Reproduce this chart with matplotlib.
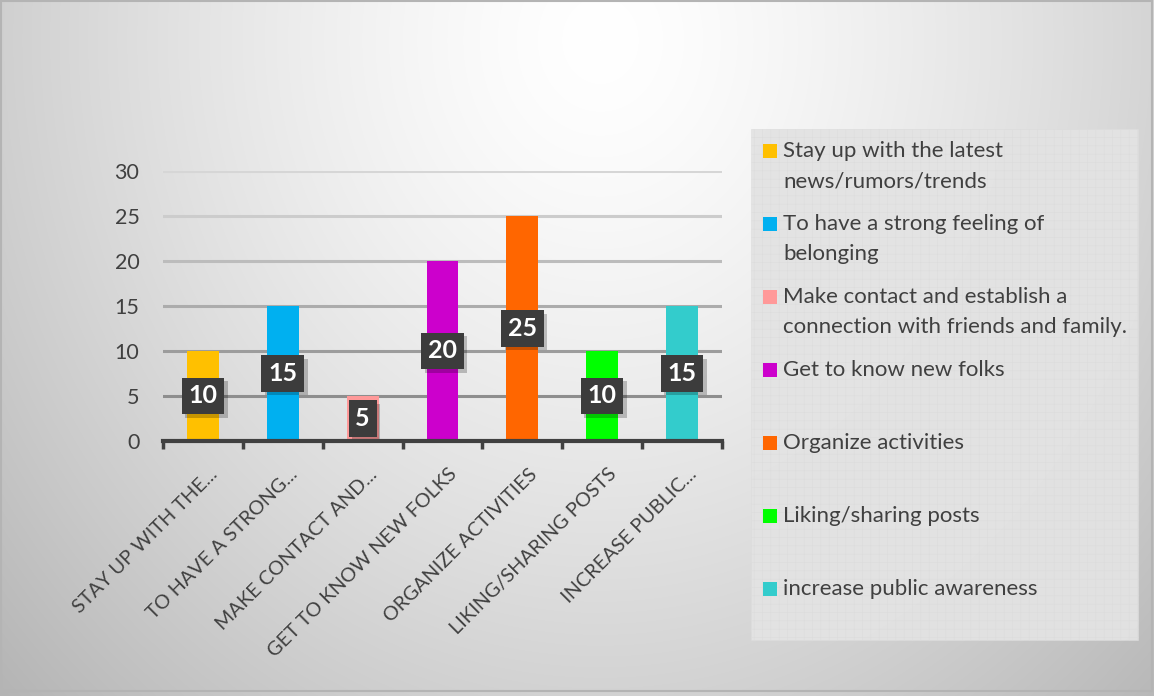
import numpy as np
import matplotlib
matplotlib.use("Agg")
import matplotlib.pyplot as plt
from matplotlib.patches import Rectangle
import matplotlib.transforms as mtransforms
import matplotlib.patheffects as pe

# ---- data ----
categories = [
    "Stay up with the latest\nnews/rumors/trends",
    "To have a strong feeling of\nbelonging",
    "Make contact and establish a\nconnection with friends and family.",
    "Get to know new folks",
    "Organize activities",
    "Liking/sharing posts",
    "increase public awareness",
]
tick_labels = [
    "STAY UP WITH THE...",
    "TO HAVE A STRONG...",
    "MAKE CONTACT AND...",
    "GET TO KNOW NEW FOLKS",
    "ORGANIZE ACTIVITIES",
    "LIKING/SHARING POSTS",
    "INCREASE PUBLIC...",
]
values = [10, 15, 5, 20, 25, 10, 15]
colors = ["#FFC000", "#00B0F0", "#FF9999", "#CC00CC", "#FF6600", "#00FF00", "#33CCCC"]

W, H = 1154, 696
FONT = "Lato"
TXT = "#404040"
plt.rcParams["hatch.color"] = "#d4d4d4"
plt.rcParams["hatch.linewidth"] = 0.4

fig = plt.figure(figsize=(W / 100, H / 100), dpi=100)

# ---- radial gradient background ----
bg = fig.add_axes([0, 0, 1, 1], zorder=-10)
yy, xx = np.mgrid[0:H, 0:W]
r = np.sqrt(((xx - 600) / 720.0) ** 2 + ((yy - 40) / 820.0) ** 2)
v = 1.0 - 0.24 * np.clip(r, 0, 1.2) ** 1.4
bg.imshow(np.dstack([v, v, v]), extent=[0, W, H, 0], aspect="auto", interpolation="bilinear")
bg.set_xlim(0, W)
bg.set_ylim(H, 0)
bg.axis("off")
bg.add_patch(Rectangle((1, 1), W - 3, H - 6, fill=False, edgecolor="#b4b4b4", lw=1.5))

# ---- bar chart ----
ax = fig.add_axes([163 / W, 1 - 441 / H, (722 - 163) / W, (441 - 171) / H])
ax.patch.set_alpha(0)
x = np.arange(len(values))

grid_cols = ["#8e8e8e", "#9c9c9c", "#acacac", "#bcbcbc", "#cccccc", "#d6d6d6"]
for yv, gc in zip(range(5, 31, 5), grid_cols):
    ax.axhline(yv, color=gc, lw=2.2, zorder=0)

ax.bar(x, values, width=0.4, color=colors, zorder=2)

ax.set_xlim(-0.5, 6.5)
ax.set_ylim(0, 30)
ax.set_yticks(range(0, 31, 5))
ax.tick_params(axis="y", length=0, pad=17, labelsize=15.5, labelcolor=TXT)
for lab in ax.get_yticklabels():
    lab.set_fontfamily(FONT)

ax.set_xticks(x)
ax.set_xticklabels(tick_labels, rotation=45, ha="right", va="center",
                   rotation_mode="anchor", fontsize=14.3, color=TXT, fontfamily=FONT)
ax.tick_params(axis="x", which="major", length=0, pad=22)
ax.set_xticks(np.arange(-0.5, 7, 1), minor=True)
ax.tick_params(axis="x", which="minor", length=6, width=2.5, color=TXT, direction="out")
shift = mtransforms.ScaledTranslation(12 / 100, 0, fig.dpi_scale_trans)
for lab in ax.get_xticklabels():
    lab.set_transform(lab.get_transform() + shift)

for s in ["left", "right", "top"]:
    ax.spines[s].set_visible(False)
ax.spines["bottom"].set_color(TXT)
ax.spines["bottom"].set_linewidth(3)
ax.spines["bottom"].set_zorder(5)

# value labels in dark boxes at mid-height of each bar
for xi, val in zip(x, values):
    t = ax.text(xi, val / 2, str(val), ha="center", va="center", fontsize=18,
                fontweight="bold", color="white", fontfamily=FONT, zorder=4,
                bbox=dict(boxstyle="square,pad=0.27", facecolor="#3c3c3c", edgecolor="none"))
    t.get_bbox_patch().set_path_effects([
        pe.SimplePatchShadow(offset=(2.5, -2.5), shadow_rgbFace="black", alpha=0.22),
        pe.Normal(),
    ])

# ---- legend panel ----
lg = fig.add_axes([0, 0, 1, 1], zorder=5)
lg.set_xlim(0, W)
lg.set_ylim(H, 0)
lg.axis("off")
lg.patch.set_alpha(0)
lg.add_patch(Rectangle((751, 129), 387, 511, facecolor="#e3e3e3", edgecolor="#dcdcdc",
                       hatch="++", lw=0.4, alpha=0.95))
base0, step, line_h = 157, 73, 30
for i, (lab, c) in enumerate(zip(categories, colors)):
    yb = base0 + i * step
    lg.add_patch(Rectangle((763, yb - 13), 14, 14, facecolor=c, edgecolor="none"))
    for k, line in enumerate(lab.split("\n")):
        lg.text(783, yb + k * line_h, line, ha="left", va="baseline",
                fontsize=16, color=TXT, fontfamily=FONT)

fig.savefig("out.png", dpi=100)
